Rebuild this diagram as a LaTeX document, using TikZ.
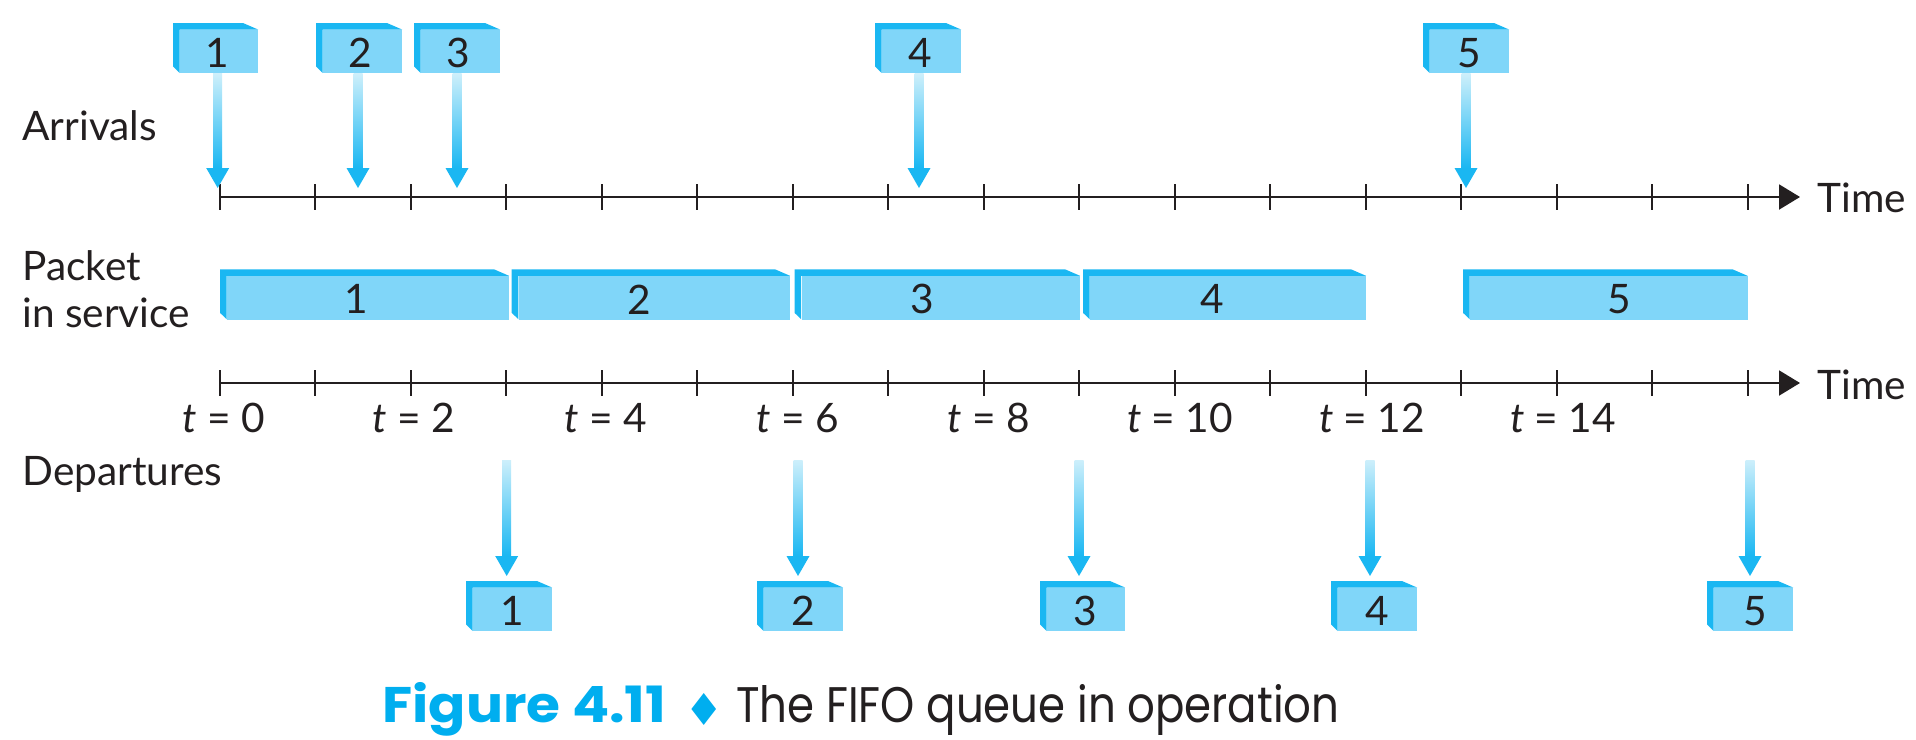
\documentclass[tikz,border=0pt]{standalone}
\usepackage{fontspec}
\setmainfont{Lato}
\newfontfamily\capfont{Poppins}
\usetikzlibrary{arrows.meta,calc}
\definecolor{ink}{HTML}{231F20}
\definecolor{cyanD}{HTML}{1AB7F2}
\definecolor{cyanL}{HTML}{80D6F9}
\definecolor{cyanP}{HTML}{CDEFFB}
\definecolor{capc}{HTML}{00AEEF}
\tikzset{
  x=0.5pt,y=-0.5pt,
  lbl/.style={font=\fontsize{20.3}{24}\selectfont,text=ink,inner sep=0pt},
  dig/.style={font=\fontsize{20.3}{24}\selectfont,text=ink,inner sep=0pt},
  axisline/.style={line width=1pt,draw=ink,-{Triangle[length=10.5pt,width=12.5pt]}},
  tickmark/.style={line width=1pt,draw=ink},
  sideface/.style={fill=cyanD,draw=none},
  frontface/.style={fill=cyanL,draw=none,inner sep=0pt,anchor=north west},
}
% name, x1, x2, ytop, digit x, digit
\newcommand\pkt[6]{%
  \fill[sideface] (#2,#4) -- ({#3-15},#4) -- (#3,{#4+6.5}) -- ({#2+6.7},{#4+6.5}) -- ({#2+6.7},{#4+50}) -- (#2,{#4+43.5}) -- cycle;
  \node[frontface,minimum width={(#3-#2-6.7)*0.5pt},minimum height=21.75pt] (#1) at ({#2+6.7},{#4+6.5}) {};
  \node[dig] (#1d) at (#5,{#4+30}) {#6};
}
% name, start, tip
\newcommand\garrow[3]{%
  \shade[top color=cyanP,bottom color=cyanD,draw=none] ($(#2)+(-4.5,0)$) rectangle ($(#3)+(4.5,-20)$);
  \fill[cyanD] ($(#3)+(-11.5,-20)$) -- ($(#3)+(11.5,-20)$) -- (#3) -- cycle;
}
\begin{document}
\begin{tikzpicture}
\useasboundingbox (0,0) rectangle (1916,739);
% axes
\foreach \n/\yy in {A/197,B/383}{
  \coordinate (\n0) at (220,\yy);
  \coordinate (\n1) at (1800,\yy);
  \draw[axisline] (\n0) -- (\n1);
  \foreach \i in {0,...,16}
    \draw[tickmark] ({220+\i*95.48},{\yy-13}) -- ({220+\i*95.48},{\yy+13});
}
% arrival packets
\pkt{a1}{173}{258}{23}{217}{1}
\pkt{a2}{316}{402}{23}{360}{2}
\pkt{a3}{414}{500}{23}{458}{3}
\pkt{a4}{875}{961}{23}{920}{4}
\pkt{a5}{1423}{1509}{23}{1469}{5}
\foreach \n/\x in {a1/217.7,a2/358,a3/457,a4/919,a5/1466}{
  \coordinate (\n s) at (\n.south -| \x,0);
  \coordinate (\n t) at (\x,188);
  \garrow{\n}{\n s}{\n t}
}
% service
\pkt{s1}{220}{509}{269.3}{356}{1}
\pkt{s2}{511.7}{790}{269.3}{639}{2}
\pkt{s3}{794.5}{1080}{269.3}{922}{3}
\pkt{s4}{1083}{1366}{269.3}{1212}{4}
\pkt{s5}{1463}{1747.5}{269.3}{1619}{5}
% departure packets
\pkt{d1}{466}{552}{581}{512}{1}
\pkt{d2}{757}{843}{581}{803}{2}
\pkt{d3}{1040}{1125}{581}{1085}{3}
\pkt{d4}{1331}{1417}{581}{1377}{4}
\pkt{d5}{1707}{1793}{581}{1755}{5}
\foreach \n/\x in {d1/506.7,d2/798,d3/1079,d4/1370,d5/1750}{
  \coordinate (\n s) at (\x,460);
  \coordinate (\n t) at (\x,576);
  \garrow{\n}{\n s}{\n t}
}
% labels
\node[lbl,anchor=west] (arr) at (22,126) {Arrivals};
\node[lbl,anchor=west] (pk) at (22,266) {Packet};
\node[lbl,anchor=west] (is) at (22,313) {in service};
\node[lbl,anchor=west] (dep) at (22,474) {Departures};
\node[lbl,anchor=west] (t1) at (1817,198) {Time};
\node[lbl,anchor=west] (t2) at (1817,385) {Time};
\foreach \x/\v in {224/0,414/2,606/4,798/6,989/8,1180/10,1372/12,1563/14}
  \node[lbl] (t\v) at (\x,418) {\textit{t} = \v};
% caption
\node[anchor=base west,inner sep=0pt,text=capc,font=\capfont\fontsize{25}{30}\selectfont\bfseries] (cap1) at (382,722) {\scalebox{1.1}[1]{Figure 4.11}};
\node[anchor=base,inner sep=0pt,text=capc,font=\fontsize{22}{26}\selectfont] (capd) at (704,725) {\fontspec{DejaVu Sans}♦};
\node[anchor=base west,inner sep=0pt,text=ink,font=\capfont\fontsize{25}{30}\selectfont] (cap2) at (736,722) {\scalebox{0.87}[1]{The FIFO queue in operation}};
\end{tikzpicture}
\end{document}
